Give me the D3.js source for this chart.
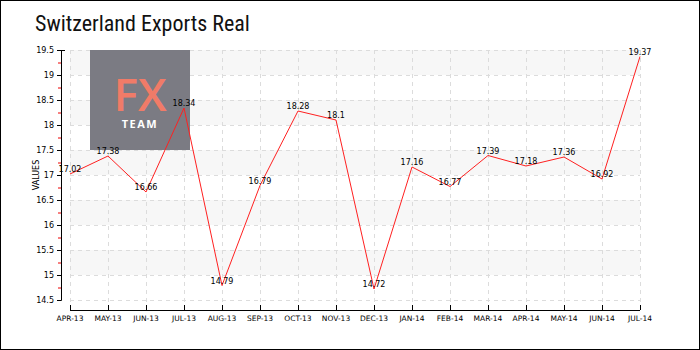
<!DOCTYPE html>
<html><head><meta charset="utf-8">
<script src="https://cdn.jsdelivr.net/npm/d3@7"></script>
<style>body{margin:0;background:#fff}svg{display:block}</style>
</head><body>
<svg id="c" width="700" height="350"></svg>
<script>
const categories = ["APR-13","MAY-13","JUN-13","JUL-13","AUG-13","SEP-13","OCT-13","NOV-13","DEC-13","JAN-14","FEB-14","MAR-14","APR-14","MAY-14","JUN-14","JUL-14"];
const values = [17.02,17.38,16.66,18.34,14.79,16.79,18.28,18.1,14.72,17.16,16.77,17.39,17.18,17.36,16.92,19.37];
const yTicks = [14.5,15,15.5,16,16.5,17,17.5,18,18.5,19,19.5];
const yMinor = [14.75,15.25,15.75,16.25,16.75,17.25,17.75,18.25,18.75,19.25];
const title = "Switzerland Exports Real";
const yLabel = "VALUES";

const svg = d3.select("#c");
const font = "'DejaVu Sans', sans-serif";
svg.append("rect").attr("x",0.5).attr("y",0.5).attr("width",699).attr("height",349)
  .attr("fill","#fff").attr("stroke","#000").attr("stroke-width",1);

svg.append("text").attr("x",35).attr("y",31).text(title)
  .attr("font-family","'Liberation Sans Narrow','Roboto Condensed',Roboto,sans-serif")
  .attr("font-size",22).attr("fill","#111");

const x = d3.scalePoint().domain(categories).range([70,640]);
const y = d3.scaleLinear().domain([14.5,19.5]).range([300,50]);

// bands
const bands = svg.append("g");
yTicks.slice(0,-1).forEach(t=>{
  if (Math.round(t*2)%2===0) {
    bands.append("rect").attr("x",70).attr("width",570)
      .attr("y",y(t+0.5)).attr("height",y(t)-y(t+0.5)).attr("fill","#f7f7f7");
  }
});
// grid
const grid = svg.append("g").attr("stroke","#dcdcdc").attr("stroke-dasharray","4,4");
yTicks.forEach(t=>grid.append("line").attr("x1",70).attr("x2",640).attr("y1",y(t)+0.5).attr("y2",y(t)+0.5));
categories.forEach(c=>grid.append("line").attr("x1",Math.round(x(c))+0.5).attr("x2",Math.round(x(c))+0.5).attr("y1",50).attr("y2",310));

// logo
const logo = svg.append("g");
logo.append("rect").attr("x",90).attr("y",50).attr("width",100).attr("height",100).attr("fill","#7b7b83");
logo.append("text").attr("x",140).attr("y",111).attr("text-anchor","middle").text("FX")
  .attr("font-family","'Open Sans',sans-serif").attr("font-weight",600).attr("font-size",46).attr("fill","#f07b68");
logo.append("text").attr("x",140).attr("y",128).attr("text-anchor","middle").text("TEAM")
  .attr("font-family","'Open Sans',sans-serif").attr("font-weight","bold").attr("font-size",11).attr("letter-spacing",1.5).attr("fill","#fff");

// y axis
const yAxis = svg.append("g").attr("transform","translate(61,0)")
  .call(d3.axisLeft(y).tickValues(yTicks).tickSize(4).tickFormat(d=>d3.format("~g")(d)));
yAxis.select(".domain").attr("stroke","#000");
yAxis.selectAll("text").attr("font-family",font).attr("font-size",8).attr("fill","#000");
yAxis.selectAll(".tick line").attr("stroke","#000");
svg.append("g").selectAll("line").data(yMinor).join("line")
  .attr("x1",58).attr("x2",61).attr("y1",d=>y(d)+0.5).attr("y2",d=>y(d)+0.5).attr("stroke","#e00");
svg.append("line").attr("x1",57).attr("x2",65).attr("y1",50.5).attr("y2",50.5).attr("stroke","#000");

svg.append("text").attr("transform","translate(39,175) rotate(-90)").attr("text-anchor","middle")
  .text(yLabel).attr("font-family",font).attr("font-size",8).attr("fill","#000");

// x axis
const xAxis = svg.append("g").attr("transform","translate(0,310)")
  .call(d3.axisTop(x).tickSize(5).tickFormat(""));
xAxis.select(".domain").remove();
svg.append("line").attr("x1",70).attr("x2",640).attr("y1",310.5).attr("y2",310.5).attr("stroke","#000");
xAxis.selectAll(".tick line").attr("stroke","#000");
svg.append("g").selectAll("text").data(categories).join("text")
  .attr("x",d=>x(d)).attr("y",321).attr("text-anchor","middle").text(d=>d)
  .attr("font-family",font).attr("font-size",7.5).attr("fill","#000");

// line
svg.append("path").datum(values).attr("fill","none").attr("stroke","#ff2020").attr("stroke-width",1)
  .attr("d",d3.line().x((d,i)=>x(categories[i])).y(d=>y(d)));
svg.append("g").selectAll("text").data(values).join("text")
  .attr("x",(d,i)=>x(categories[i])).attr("y",d=>y(d)-2).attr("text-anchor","middle")
  .text(d=>d).attr("font-family",font).attr("font-size",8).attr("fill","#000");
</script>
</body></html>
